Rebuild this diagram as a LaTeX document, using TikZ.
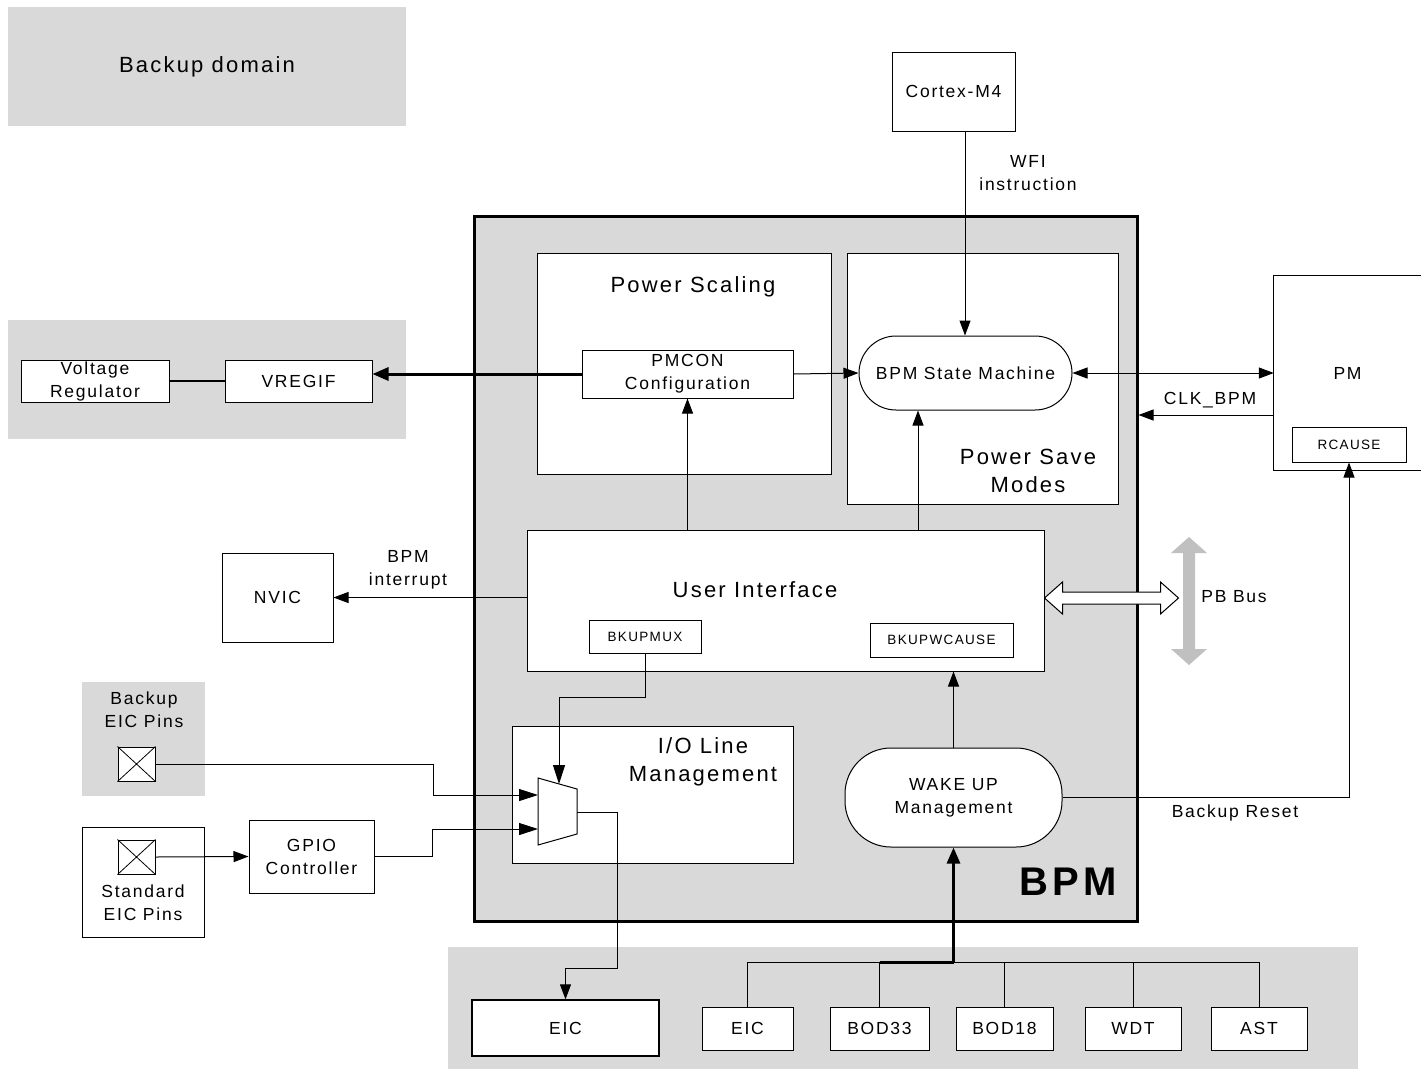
\documentclass[tikz,border=0pt]{standalone}
\usepackage{fontspec}
\setmainfont{Liberation Sans}[LetterSpace=10]
\usetikzlibrary{arrows.meta,calc}
\definecolor{bggray}{HTML}{D9D9D9}
\definecolor{busgray}{HTML}{C0C0C0}
\newcommand{\fbig}{\fontsize{22}{28}\selectfont}
\newcommand{\fmid}{\fontsize{17.5}{23}\selectfont}
\newcommand{\fsml}{\fontsize{13.5}{16}\selectfont}
\tikzset{
  region/.style={fill=bggray, draw=none, inner sep=0pt},
  blk/.style={draw, fill=white, line width=1pt, inner sep=0pt, align=center, font=\fmid},
  lbl/.style={inner sep=0pt, align=center, font=\fmid},
  biglbl/.style={inner sep=0pt, align=center, font=\fbig},
  conn/.style={line width=1pt},
  arr/.style={line width=1pt, -{Triangle[length=15pt,width=11pt]}},
  darr/.style={line width=1pt, {Triangle[length=15pt,width=11pt]}-{Triangle[length=15pt,width=11pt]}},
  bigarr/.style={line width=1pt, -{Triangle[length=19pt,width=12pt]}},
  thickarr/.style={line width=3pt, -{Triangle[length=16pt,width=13pt]}},
}
\begin{document}
\begin{tikzpicture}[x=1pt,y=-1pt]
\useasboundingbox (0,0) rectangle (1421,1069);

% ---------- background regions ----------
\node[region, minimum width=398pt, minimum height=119pt, font=\fbig] (bkdom) at (207,66.5) {Backup domain};
\node[region, minimum width=398pt, minimum height=119pt] (vregarea) at (207,379.5) {};
\node[region, minimum width=123pt, minimum height=114pt] (bkpins) at (143.5,739) {};
\node[region, minimum width=910pt, minimum height=122pt] (botarea) at (903,1008) {};

% ---------- BPM block ----------
\node[draw, fill=bggray, line width=3pt, minimum width=663pt, minimum height=705pt, inner sep=0pt] (bpm) at (805.5,568.5) {};
\node[font=\fontsize{40}{40}\bfseries\selectfont, inner sep=0pt] (bpmlbl) at (1068,882) {BPM};

\node[blk, minimum width=294pt, minimum height=221pt] (ps) at (684,363.5) {};
\node[biglbl] (pslbl) at (693,287) {Power Scaling};
\node[blk, minimum width=271pt, minimum height=251pt] (psm) at (982.5,378.5) {};
\node[biglbl] (psmlbl) at (1028,471) {Power Save\\Modes};

\node[blk, minimum width=211pt, minimum height=48pt] (pmcon) at (687.5,374) {PMCON\\Configuration};
\node[blk, rounded corners=37pt, minimum width=213pt, minimum height=74pt] (sm) at (965.5,373) {BPM State Machine};

\node[blk, minimum width=517pt, minimum height=141pt] (ui) at (785.5,600.5) {};
\node[biglbl] (uilbl) at (755,590) {User Interface};
\node[blk, minimum width=112pt, minimum height=33pt, font=\fsml] (bkupmux) at (645,636.5) {BKUPMUX};
\node[blk, minimum width=143pt, minimum height=34pt, font=\fsml] (bkupw) at (941.5,640) {BKUPWCAUSE};

\node[blk, minimum width=281pt, minimum height=137pt] (iolm) at (652.5,794.5) {};
\node[biglbl] (iolmlbl) at (703,762) {I/O Line\\Management};

\node[blk, rounded corners=46pt, minimum width=217pt, minimum height=99pt] (wake) at (953.5,797.5) {WAKE UP\\Management};

% mux
\coordinate (m1) at (538,778);
\coordinate (m2) at (577,789);
\coordinate (m3) at (577,834);
\coordinate (m4) at (538,845);
\coordinate (muxin1) at (538,795);
\coordinate (muxin2) at (538,829);
\coordinate (muxout) at (577,812);
\coordinate (muxsel) at (559,784);
\draw[line width=1pt, fill=white] (m1) -- (m2) -- (m3) -- (m4) -- cycle;

% ---------- outside blocks ----------
\node[blk, minimum width=123pt, minimum height=79pt] (cortex) at (953.5,91.5) {Cortex-M4};
\node[lbl] (wfi) at (1028,173) {WFI\\instruction};

\node[blk, minimum width=148pt, minimum height=42pt] (volt) at (95,381) {Voltage\\Regulator};
\node[blk, minimum width=147pt, minimum height=42pt] (vregif) at (298.5,381) {VREGIF};

\node[fill=white, inner sep=0pt, minimum width=147pt, minimum height=194pt, font=\fmid] (pm) at (1347.5,373) {PM};
\draw[line width=1pt] (pm.north east) -- (pm.north west) -- (pm.south west) -- (pm.south east);
\node[blk, minimum width=114pt, minimum height=35pt, font=\fsml] (rcause) at (1349,444.5) {RCAUSE};
\node[lbl] (clklbl) at (1210,400) {CLK\_BPM};

\node[blk, minimum width=111pt, minimum height=89pt] (nvic) at (277.5,597.5) {NVIC};
\node[lbl] (irqlbl) at (408,569.5) {BPM\\interrupt};

\node[lbl] (pbbuslbl) at (1234,597) {PB Bus};

\node[lbl] (bkpinslbl) at (144,709.5) {Backup\\EIC Pins};
\node[draw, fill=white, line width=1pt, minimum width=37pt, minimum height=34pt, inner sep=0pt] (pin1) at (136.5,764) {};
\draw[line width=0.8pt] (pin1.north west) -- (pin1.south east) (pin1.north east) -- (pin1.south west);

\node[draw, fill=white, line width=1pt, minimum width=122pt, minimum height=110pt, inner sep=0pt] (stdpins) at (143,882) {};
\node[lbl] (stdpinslbl) at (143,902.5) {Standard\\EIC Pins};
\node[draw, fill=white, line width=1pt, minimum width=37pt, minimum height=34pt, inner sep=0pt] (pin2) at (136.5,857) {};
\draw[line width=0.8pt] (pin2.north west) -- (pin2.south east) (pin2.north east) -- (pin2.south west);

\node[blk, minimum width=125pt, minimum height=73pt] (gpio) at (311.5,856.5) {GPIO\\Controller};

\node[lbl] (rstlbl) at (1235,813) {Backup Reset};

% bottom row
\node[blk, line width=1.3pt, minimum width=187pt, minimum height=56pt] (eicL) at (565.5,1028) {EIC};
\node[blk, minimum width=91pt, minimum height=43pt] (eic) at (747.5,1028.5) {EIC};
\node[blk, minimum width=99pt, minimum height=43pt] (bod33) at (879.5,1028.5) {BOD33};
\node[blk, minimum width=97pt, minimum height=43pt] (bod18) at (1004.5,1028.5) {BOD18};
\node[blk, minimum width=96pt, minimum height=43pt] (wdt) at (1133,1028.5) {WDT};
\node[blk, minimum width=96pt, minimum height=43pt] (ast) at (1259,1028.5) {AST};

% ---------- connectors ----------
\coordinate (cortexx) at (965,0);
\draw[arr] (cortex.south -| cortexx) -- (sm.north -| cortexx);
\draw[arr] (pmcon.east) -- (sm.west);
\draw[thickarr] (pmcon.west) -- (vregif.east |- pmcon.west);
\draw[line width=2pt] (volt.east) -- (vregif.west);
\draw[darr] (sm.east) -- (pm.west |- sm.east);
\coordinate (clky) at (0,415);
\draw[arr] (pm.west |- clky) -- (bpm.east |- clky);
\draw[arr] (ui.north -| pmcon.south) -- (pmcon.south);
\coordinate (uirx) at (918,0);
\draw[arr] (ui.north -| uirx) -- (sm.south -| uirx);
\draw[arr] (ui.west |- nvic.east) -- (nvic.east);
\draw[arr] (wake.north) -- (ui.south -| wake.north);
\draw[arr] (wake.east) -| (rcause.south);

\draw[bigarr] (bkupmux.south) -- ++(0,44) -| (muxsel);
\draw[bigarr] (pin1.east) -- ++(278,0) |- (muxin1);
\draw[arr] (pin2.east) -- (gpio.west);
\draw[bigarr] (gpio.east) -- ++(58,0) |- (muxin2);
\draw[arr] (muxout) -- ++(40,0) -- ++(0,156) -| (eicL.north);

% wake-up sources tree
\coordinate (busy) at (0,962);
\foreach \b in {eic,bod33,bod18,wdt,ast} {
  \draw[conn] (\b.north) -- (\b.north |- busy);
}
\draw[conn] (eic.north |- busy) -- (ast.north |- busy);
\draw[line width=3pt] (bod33.north |- busy) -- (wake.south |- busy);
\draw[thickarr] (wake.south |- busy) -- (wake.south);

% PB bus arrows
\fill[busgray] (1189,537) -- (1207,553) -- (1195,553) -- (1195,649) -- (1207,649) -- (1189,665)
  -- (1171,649) -- (1183,649) -- (1183,553) -- (1171,553) -- cycle;
\coordinate (pbl) at (ui.east |- 0,598);
\draw[fill=white, line width=1pt] (pbl) -- ++(18,-16) -- ++(0,10) -- ++(98,0) -- ++(0,-10) -- ++(18,16)
  -- ++(-18,16) -- ++(0,-10) -- ++(-98,0) -- ++(0,10) -- cycle;
\end{tikzpicture}
\end{document}
